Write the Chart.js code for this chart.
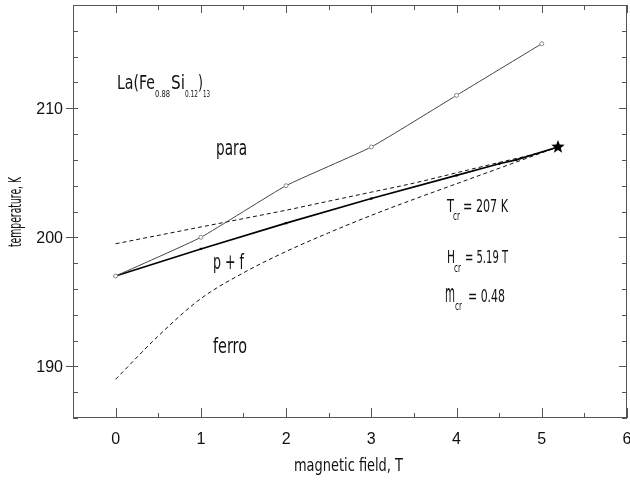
<!DOCTYPE html>
<html>
<head>
<meta charset="utf-8">
<script src="https://cdn.jsdelivr.net/npm/chart.js@4.4.0/dist/chart.umd.min.js"></script>
<style>
  html, body { margin: 0; padding: 0; background: #fff; }
  #wrap { width: 630px; height: 482px; }
</style>
</head>
<body>
<div id="wrap"><canvas id="phaseChart" width="630" height="482"></canvas></div>
<script>
// valeurs
const paraField = [0, 1, 2, 3, 4, 5];
const paraTemp = [197, 200, 204, 207, 211, 215];

const mixField = [0, 1, 2, 3, 4, 4.5, 4.7, 5.19];
const mixTemp = [197, 199.1, 201.1, 203.0, 204.8, 205.7, 206.0, 207];

const dashField = [0, 0.5, 1, 1.5, 2, 2.5, 3, 3.5, 4, 4.5, 5, 5.19];
const upperTemp = [199.5, 200.15, 200.8, 201.45, 202.1, 202.8, 203.5, 204.2, 205.0, 205.8, 206.6, 207];
const lowerTemp = [189.0, 192.35, 195.25, 197.25, 198.9, 200.35, 201.7, 202.95, 204.15, 205.35, 206.55, 207];

const critField = [5.19];
const critTemp = [207];

const xTickLabels = [0, 1, 2, 3, 4, 5, 6];
const yTickLabels = [190, 200, 210];

function toPoints(xs, ys) {
    return xs.map((x, i) => ({ x: x, y: ys[i] }));
}

// étoile pleine pour le point critique
function makeStar(r) {
    const c = document.createElement('canvas');
    c.width = c.height = r * 2 + 2;
    const g = c.getContext('2d');
    g.beginPath();
    for (let i = 0; i < 10; i++) {
        const rad = i % 2 === 0 ? r : r * 0.42;
        const a = -Math.PI / 2 + i * Math.PI / 5;
        g.lineTo(r + 1 + rad * Math.cos(a), r + 1 + rad * Math.sin(a));
    }
    g.closePath();
    g.fillStyle = '#000';
    g.fill();
    return c;
}

// texte étroit (police condensée simulée)
function narrow(ctx, txt, x, y, size, w) {
    ctx.font = size + 'px "DejaVu Sans"';
    const m = ctx.measureText(txt).width;
    ctx.save();
    ctx.translate(x, y);
    ctx.scale(w / m, 1);
    ctx.fillText(txt, 0, 0);
    ctx.restore();
}

const decor = {
    id: 'decor',
    afterDatasetsDraw(chart) {
        const ctx = chart.ctx;
        const a = chart.chartArea;
        const xs = chart.scales.x;
        const ys = chart.scales.y;

        ctx.save();
        ctx.strokeStyle = '#555';
        ctx.lineWidth = 1;
        ctx.strokeRect(a.left + 0.5, a.top + 0.5, a.right - a.left - 1, a.bottom - a.top - 1);

        // graduations vers l'intérieur
        ctx.beginPath();
        xs.ticks.forEach(t => {
            const px = Math.round(xs.getPixelForValue(t.value)) + 0.5;
            const major = Number.isInteger(t.value);
            ctx.moveTo(px, a.bottom); ctx.lineTo(px, a.bottom - (major ? 10 : 5));
            ctx.moveTo(px, a.top); ctx.lineTo(px, a.top + (major ? 8 : 5));
        });
        ys.ticks.forEach(t => {
            const py = Math.round(ys.getPixelForValue(t.value)) + 0.5;
            const major = t.value % 10 === 0;
            if (major) {
                ctx.moveTo(a.left - 7, py); ctx.lineTo(a.left + 5, py);
                ctx.moveTo(a.right, py); ctx.lineTo(a.right - 8, py);
            } else {
                ctx.moveTo(a.left, py); ctx.lineTo(a.left + 5, py);
                ctx.moveTo(a.right, py); ctx.lineTo(a.right - 5, py);
            }
        });
        ctx.stroke();

        // étiquettes des graduations
        ctx.fillStyle = '#111';
        ctx.font = '16px "Liberation Sans", Arial, sans-serif';
        ctx.textBaseline = 'alphabetic';
        ctx.textAlign = 'center';
        xTickLabels.forEach(v => {
            ctx.fillText(String(v), xs.getPixelForValue(v), 444);
        });
        ctx.textAlign = 'right';
        yTickLabels.forEach(v => {
            ctx.fillText(String(v), a.left - 10, ys.getPixelForValue(v) + 6);
        });

        ctx.textAlign = 'left';

        // formule
        narrow(ctx, 'La(Fe', 117, 89, 20, 38);
        narrow(ctx, '0.88', 155, 97, 9, 15);
        narrow(ctx, 'Si', 171, 89, 20, 14);
        narrow(ctx, '0.12', 185, 97, 9, 13);
        narrow(ctx, ')', 198, 89, 20, 5);
        narrow(ctx, '13', 203, 97, 9, 7);

        // régions
        narrow(ctx, 'para', 216, 155, 22, 31);
        narrow(ctx, 'p + f', 213, 269, 22, 31);
        narrow(ctx, 'ferro', 213, 353, 21, 34);

        // point critique
        narrow(ctx, 'T', 447, 212, 18, 7);
        narrow(ctx, 'cr', 453, 220, 12, 7);
        narrow(ctx, '= 207 K', 463, 212, 18, 45);
        narrow(ctx, 'H', 447, 263, 18, 8);
        narrow(ctx, 'cr', 454, 272, 12, 7);
        narrow(ctx, '= 5.19 T', 465, 263, 18, 43);
        narrow(ctx, 'm', 445, 302, 25, 10);
        narrow(ctx, 'cr', 455, 310, 12, 7);
        narrow(ctx, '= 0.48', 468, 302, 18, 37);

        // titres des axes
        narrow(ctx, 'magnetic field, T', 294, 471, 18, 109);
        ctx.save();
        ctx.translate(21, 247);
        ctx.rotate(-Math.PI / 2);
        narrow(ctx, 'temperature, K', 0, 0, 18, 70);
        ctx.restore();

        ctx.restore();
    }
};

const starImg = makeStar(7);

new Chart(document.getElementById('phaseChart'), {
    type: 'scatter',
    data: {
        datasets: [
            {
                data: toPoints(paraField, paraTemp),
                showLine: true,
                borderColor: '#444',
                borderWidth: 1,
                tension: 0.15,
                pointStyle: 'circle',
                pointRadius: 2,
                pointBorderWidth: 1,
                pointBorderColor: '#888',
                pointBackgroundColor: '#fff'
            },
            {
                data: toPoints(mixField, mixTemp),
                showLine: true,
                borderColor: '#000',
                borderWidth: 1.6,
                tension: 0,
                pointStyle: 'rect',
                pointRadius: ctx => ctx.dataIndex === mixField.length - 1 ? 0 : 1.6,
                pointBorderWidth: 0,
                pointBackgroundColor: '#000'
            },
            {
                data: toPoints(dashField, upperTemp),
                showLine: true,
                borderColor: '#111',
                borderWidth: 1,
                borderDash: [4, 3],
                cubicInterpolationMode: 'monotone',
                pointRadius: 0
            },
            {
                data: toPoints(dashField, lowerTemp),
                showLine: true,
                borderColor: '#111',
                borderWidth: 1,
                borderDash: [4, 3],
                cubicInterpolationMode: 'monotone',
                pointRadius: 0
            },
            {
                data: toPoints(critField, critTemp),
                showLine: false,
                pointStyle: starImg,
                pointRadius: 7
            }
        ]
    },
    options: {
        responsive: false,
        animation: false,
        layout: { autoPadding: false, padding: { top: 5, right: 3, left: 0, bottom: 0 } },
        plugins: {
            legend: { display: false },
            tooltip: { enabled: false }
        },
        scales: {
            x: {
                type: 'linear',
                min: -0.5,
                max: 6,
                grid: { display: false },
                border: { display: false },
                afterFit: s => { s.height = 64; },
                ticks: { display: false, stepSize: 0.5, autoSkip: false }
            },
            y: {
                type: 'linear',
                min: 186,
                max: 218,
                grid: { display: false },
                border: { display: false },
                afterFit: s => { s.width = 73; },
                ticks: { display: false, stepSize: 2, autoSkip: false }
            }
        }
    },
    plugins: [decor]
});
</script>
</body>
</html>
